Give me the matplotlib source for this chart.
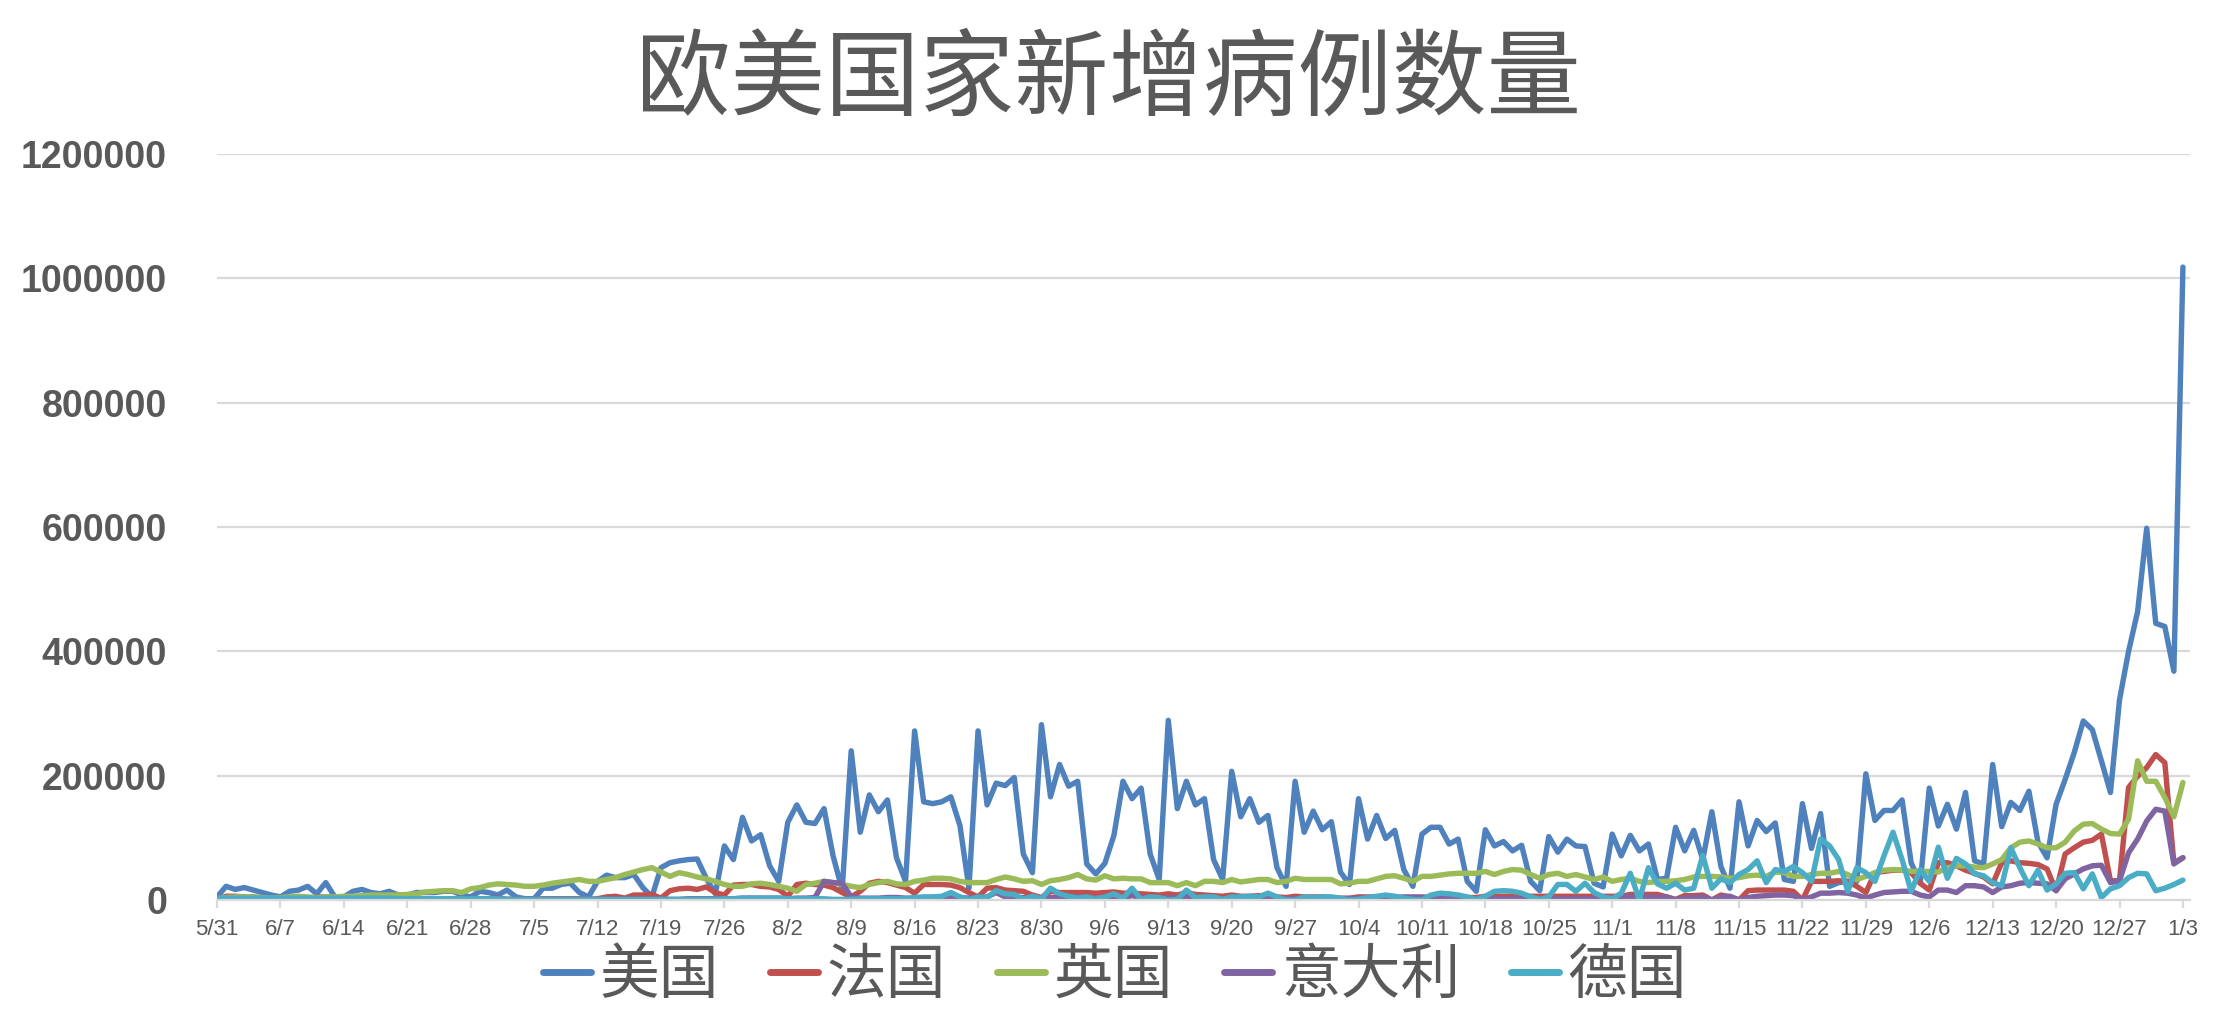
import matplotlib
matplotlib.use("Agg")
import matplotlib.pyplot as plt
import numpy as np
import pandas as pd

plt.rcParams["font.family"] = ["Noto Sans CJK SC", "DejaVu Sans"]

# daily new cases, thousands, 2020-05-31 .. 2021-01-03
dates = pd.date_range("2020-05-31", "2021-01-03", freq="D")

us = [
    5, 22, 17, 20, 16, 12, 8, 5, 14, 16,
    22, 10, 28, 5, 5, 14, 17, 12, 10, 14,
    8, 8, 12, 12, 12, 14, 14, 8, 5, 14,
    12, 8, 16, 5, 2, 2, 19, 19, 25, 27,
    12, 5, 30, 40, 36, 36, 41, 20, 5, 52,
    60, 63, 65, 66, 35, 10, 87, 65, 133, 95,
    105, 55, 30, 125, 153, 125, 123, 147, 71, 16,
    240, 109, 169, 142, 161, 68, 30, 272, 158, 155,
    158, 166, 120, 19, 272, 153, 188, 184, 197, 74,
    44, 282, 166, 218, 183, 191, 58, 42, 59, 104,
    191, 163, 180, 74, 33, 289, 147, 191, 153, 163,
    65, 33, 207, 134, 163, 125, 136, 52, 22, 191,
    109, 143, 113, 126, 45, 25, 163, 98, 136, 99,
    112, 49, 22, 106, 117, 117, 90, 98, 30, 14,
    113, 87, 94, 79, 88, 30, 15, 102, 77, 98,
    87, 86, 27, 21, 106, 71, 104, 79, 90, 33,
    35, 117, 79, 112, 65, 142, 54, 19, 158, 87,
    128, 110, 124, 33, 30, 155, 83, 139, 22, 28,
    30, 30, 203, 128, 144, 144, 161, 60, 27, 180,
    119, 154, 114, 173, 63, 58, 218, 118, 157, 144,
    175, 93, 68, 154, 194, 237, 288, 274, 224, 173,
    322, 400, 464, 598, 445, 440, 368, 1018,
]

france = [
    1, 6, 6, 5, 5, 3, 2, 2, 2, 2,
    2, 5, 5, 5, 3, 2, 2, 2, 1, 1,
    1, 1, 1, 2, 1, 1, 2, 2, 1, 2,
    2, 3, 1, 1, 1, 1, 2, 2, 2, 2,
    2, 1, 2, 5, 6, 3, 8, 8, 9, 3,
    15, 18, 19, 17, 21, 12, 8, 24, 25, 25,
    22, 21, 17, 6, 25, 27, 25, 24, 20, 12,
    5, 14, 27, 30, 28, 24, 20, 11, 25, 25,
    25, 24, 20, 12, 5, 19, 20, 16, 15, 14,
    8, 4, 14, 12, 12, 12, 12, 11, 12, 13,
    11, 11, 10, 9, 8, 10, 8, 12, 9, 8,
    7, 6, 8, 6, 6, 7, 7, 5, 4, 6,
    5, 5, 5, 4, 3, 3, 5, 5, 5, 3,
    3, 3, 3, 3, 5, 4, 4, 4, 4, 4,
    6, 6, 6, 6, 6, 6, 6, 6, 6, 6,
    6, 6, 6, 6, 6, 6, 9, 9, 9, 9,
    5, 1, 7, 7, 8, 0, 8, 5, 0, 15,
    16, 16, 16, 16, 14, 0, 30, 30, 30, 31,
    30, 22, 12, 44, 46, 48, 48, 44, 27, 16,
    60, 60, 55, 48, 43, 37, 26, 60, 63, 60,
    59, 57, 50, 15, 74, 84, 93, 96, 106, 31,
    31, 181, 199, 213, 234, 221, 60, 68,
]

uk = [
    2, 4, 5, 5, 5, 4, 3, 4, 5, 6,
    5, 4, 5, 5, 6, 6, 7, 8, 8, 8,
    8, 9, 10, 13, 14, 15, 15, 12, 18, 20,
    24, 26, 25, 24, 22, 22, 24, 27, 29, 31,
    33, 30, 30, 33, 36, 41, 45, 49, 52, 45,
    38, 44, 41, 37, 34, 30, 25, 22, 22, 26,
    27, 25, 22, 19, 14, 25, 27, 30, 28, 25,
    22, 20, 25, 28, 30, 26, 25, 30, 32, 35,
    35, 34, 30, 28, 28, 28, 33, 37, 34, 30,
    31, 25, 31, 33, 36, 41, 34, 32, 39, 34,
    35, 34, 34, 28, 28, 28, 23, 28, 23, 30,
    30, 28, 33, 29, 31, 33, 33, 28, 30, 35,
    33, 33, 33, 33, 26, 27, 30, 30, 34, 38,
    39, 35, 30, 38, 38, 40, 42, 43, 43, 43,
    46, 41, 46, 49, 48, 41, 35, 41, 43, 38,
    41, 37, 33, 37, 30, 33, 35, 30, 28, 30,
    30, 31, 33, 37, 38, 38, 37, 35, 36, 39,
    40, 38, 45, 44, 38, 38, 41, 43, 43, 46,
    41, 33, 38, 44, 48, 49, 48, 46, 46, 46,
    45, 52, 55, 55, 53, 52, 58, 65, 84, 93,
    95, 90, 84, 84, 93, 111, 122, 123, 114, 107,
    106, 130, 224, 191, 191, 165, 134, 189,
]

italy = [
    1, 1, 1, 1, 1, 1, 1, 1, 1, 1,
    1, 1, 1, 1, 1, 1, 1, 1, 1, 1,
    1, 1, 1, 1, 1, 1, 1, 1, 1, 1,
    1, 1, 1, 1, 1, 1, 1, 1, 1, 1,
    1, 1, 1, 1, 1, 1, 1, 1, 1, 1,
    1, 1, 2, 2, 2, 2, 2, 2, 3, 3,
    3, 3, 3, 2, 3, 3, 4, 30, 28, 27,
    5, 3, 3, 3, 4, 4, 3, 3, 4, 4,
    5, 5, 4, 3, 3, 5, 12, 5, 4, 4,
    3, 3, 4, 4, 4, 5, 4, 3, 3, 4,
    4, 7, 4, 3, 3, 3, 4, 6, 4, 4,
    3, 2, 3, 3, 3, 4, 4, 3, 2, 2,
    3, 3, 3, 3, 2, 2, 3, 3, 3, 3,
    4, 5, 5, 5, 4, 3, 3, 3, 1, 1,
    2, 2, 2, 2, 2, 2, 2, 2, 2, 2,
    2, 2, 2, 3, 4, 5, 5, 5, 5, 4,
    5, 0, 3, 4, 5, 0, 5, 6, 0, 4,
    6, 7, 8, 8, 7, 0, 5, 11, 11, 12,
    11, 8, 3, 8, 12, 13, 14, 14, 8, 5,
    16, 16, 12, 23, 23, 21, 12, 21, 23, 27,
    28, 27, 26, 15, 34, 42, 50, 55, 56, 28,
    31, 76, 98, 127, 146, 143, 58, 68,
]

germany = [
    3, 3, 3, 3, 3, 3, 3, 3, 3, 3,
    3, 3, 3, 3, 3, 3, 3, 3, 3, 3,
    2, 2, 2, 2, 2, 2, 2, 2, 2, 2,
    2, 2, 1, 1, 1, 1, 1, 1, 1, 1,
    1, 1, 1, 1, 1, 1, 1, 1, 1, 1,
    1, 1, 1, 1, 1, 1, 2, 2, 3, 3,
    3, 3, 3, 2, 2, 2, 2, 2, 1, 1,
    1, 2, 2, 2, 2, 2, 2, 4, 5, 5,
    6, 12, 5, 1, 5, 4, 15, 10, 9, 1,
    6, 2, 19, 10, 6, 3, 5, 1, 5, 10,
    3, 19, 1, 5, 4, 0, 1, 16, 4, 5,
    5, 1, 5, 5, 6, 5, 11, 5, 0, 0,
    5, 4, 5, 5, 3, 0, 1, 4, 6, 8,
    6, 3, 1, 0, 8, 11, 10, 8, 5, 1,
    6, 14, 15, 14, 11, 5, 1, 5, 25, 25,
    14, 27, 12, 5, 2, 11, 43, 0, 52, 26,
    19, 27, 16, 19, 72, 19, 34, 28, 41, 49,
    63, 28, 49, 46, 54, 44, 30, 98, 87, 65,
    14, 52, 44, 30, 71, 109, 65, 14, 49, 30,
    85, 35, 67, 58, 42, 39, 28, 23, 84, 52,
    23, 48, 16, 26, 43, 44, 18, 42, 4, 18,
    23, 36, 43, 42, 15, 19, 25, 32,
]

series = [
    ("美国", us, "#4f81bd"),
    ("法国", france, "#c0504d"),
    ("英国", uk, "#9bbb59"),
    ("意大利", italy, "#8064a2"),
    ("德国", germany, "#4bacc6"),
]

grey = "#595959"
fig = plt.figure(figsize=(22.17, 10.21), dpi=100)
ax = fig.add_axes([0.0979, 0.1185, 0.890, 0.7307])

x = np.arange(len(dates))
for name, vals, col in series:
    ax.plot(x, np.array(vals) * 1000, color=col, lw=3.9, label=name,
            solid_joinstyle="round", solid_capstyle="round")

ax.set_xlim(0, 217.8)
ax.set_ylim(0, 1200000)
ax.set_yticks(np.arange(0, 1200001, 200000))
ax.set_yticklabels([str(v) for v in range(0, 1200001, 200000)],
                   family=["Liberation Sans"], fontweight="bold",
                   fontsize=27, color=grey)
tick_idx = x[::7]
ax.set_xticks(tick_idx)
ax.set_xticklabels([f"{d.month}/{d.day}" for d in dates[::7]],
                   family=["Liberation Sans Narrow", "Liberation Sans"],
                   fontsize=16, color=grey)

ax.grid(axis="y", color="#d9d9d9", lw=1.6)
ax.set_axisbelow(True)
for s in ["top", "right", "left"]:
    ax.spines[s].set_visible(False)
ax.spines["bottom"].set_color("#d9d9d9")
ax.spines["bottom"].set_linewidth(1.6)
ax.tick_params(axis="y", length=0, pad=36)
ax.tick_params(axis="x", length=6, width=1.6, color="#d9d9d9", pad=8)

fig.text(0.5, 0.921, "欧美国家新增病例数量", ha="center", va="center",
         fontsize=68, color=grey)

leg = fig.legend(loc="center", bbox_to_anchor=(0.503, 0.044), ncol=5,
                 frameon=False, fontsize=43, handlelength=0.8,
                 handletextpad=0.15, columnspacing=0.85)
for t in leg.get_texts():
    t.set_color(grey)
for h in leg.get_lines():
    h.set_linewidth(5)

fig.savefig("out.png", dpi=100)
